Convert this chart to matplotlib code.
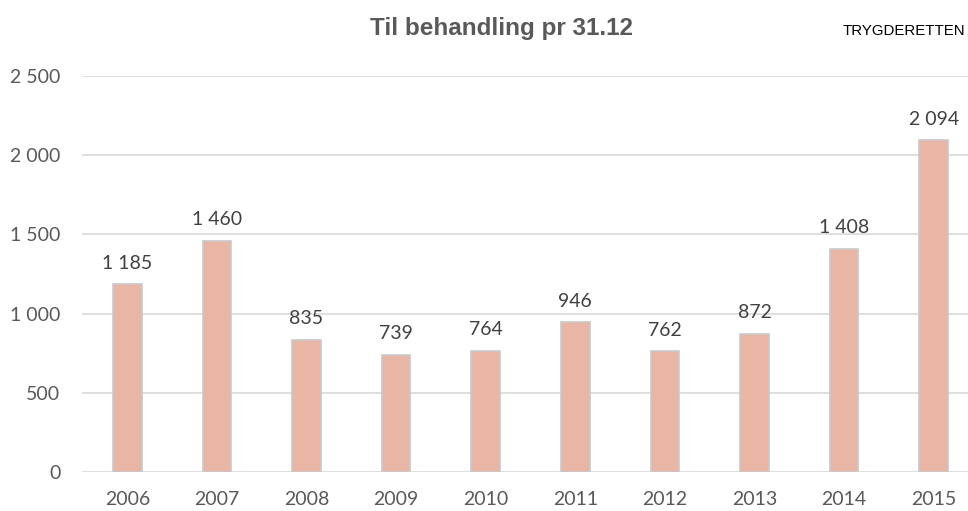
import matplotlib.pyplot as plt
from matplotlib.ticker import FuncFormatter

# data
years = ['2006', '2007', '2008', '2009', '2010', '2011', '2012', '2013', '2014', '2015']
pending = [1185, 1460, 835, 739, 764, 946, 762, 872, 1408, 2094]
yticks = [0, 500, 1000, 1500, 2000, 2500]

def spaced(v, pos=None):
    return '{:,}'.format(int(v)).replace(',', ' ')

gray = '#595959'
fig = plt.figure(figsize=(9.68, 5.11), dpi=100)
ax = fig.add_axes([0.0852, 0.0763, 0.9256, 0.775])

x = range(len(years))
bars = ax.bar(x, pending, width=0.32, color='#E9B5A5', edgecolor='#C9C9C9', linewidth=1.2, zorder=3)
for xi, v in zip(x, pending):
    ax.annotate(spaced(v), (xi, v), xytext=(0, 9), textcoords='offset points',
                ha='center', va='bottom', fontsize=14, color='#404040', family='Lato')

ax.set_xlim(-0.5, len(years) - 0.5)
ax.set_ylim(0, 2500)
ax.set_yticks(yticks)
ax.yaxis.set_major_formatter(FuncFormatter(spaced))
ax.set_xticks(list(x))
ax.set_xticklabels(years)
ax.grid(axis='y', color='#D9D9D9', linewidth=1.2, zorder=0)
ax.tick_params(axis='both', length=0, labelsize=14, labelcolor=gray)
ax.tick_params(axis='x', pad=14)
ax.tick_params(axis='y', pad=16)
for lab in ax.get_xticklabels() + ax.get_yticklabels():
    lab.set_family('Lato')
for s in ax.spines.values():
    s.set_visible(False)

fig.text(0.5176, 0.945, 'Til behandling pr 31.12', ha='center', va='center',
         fontsize=17.5, fontweight='bold', color=gray, family='Liberation Sans')
fig.text(0.997, 0.94, 'TRYGDERETTEN', ha='right', va='center',
         fontsize=10.8, color='black', family='Liberation Sans')

fig.savefig('out.png', dpi=100)
